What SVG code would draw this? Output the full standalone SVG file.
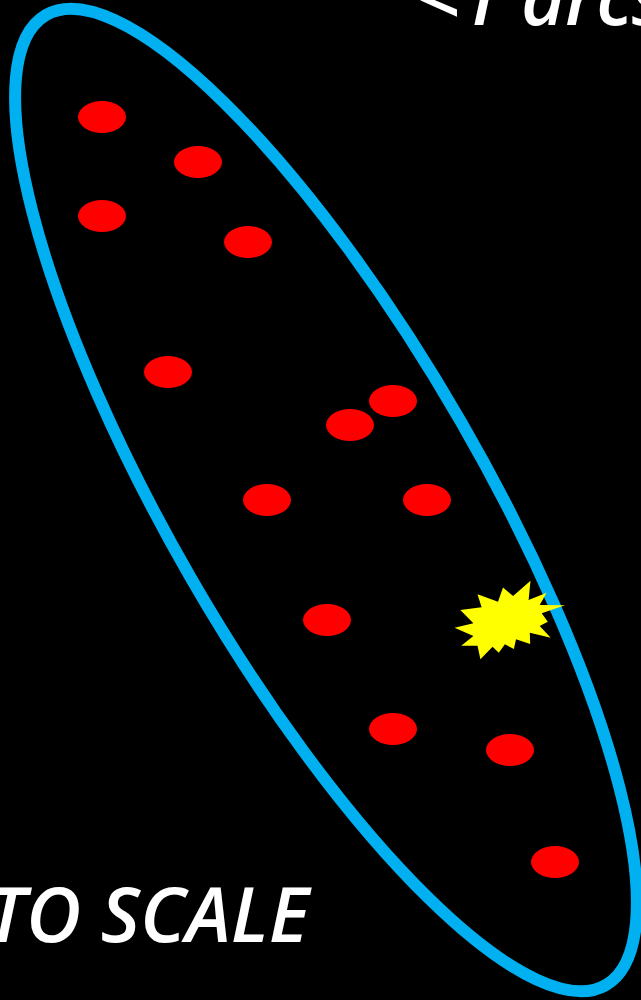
<svg xmlns="http://www.w3.org/2000/svg" width="641" height="1000" viewBox="0 0 641 1000">
<style>
.dot{fill:#FF0000}
.lbl{fill:#FFFFFF;font-family:"Open Sans","Liberation Sans",sans-serif;font-style:italic;font-weight:600;font-size:76px}
</style>
<rect x="0" y="0" width="641" height="1000" fill="#000000"/>
<g id="region">
<ellipse cx="326" cy="500" rx="560" ry="156" transform="rotate(60 326 500)" fill="none" stroke="#00B0F0" stroke-width="12"/>
</g>
<g id="dots">
<ellipse class="dot" cx="102" cy="117" rx="24" ry="16"/>
<ellipse class="dot" cx="198" cy="162" rx="24" ry="16"/>
<ellipse class="dot" cx="102" cy="216" rx="24" ry="16"/>
<ellipse class="dot" cx="248" cy="242" rx="24" ry="16"/>
<ellipse class="dot" cx="168" cy="372" rx="24" ry="16"/>
<ellipse class="dot" cx="393" cy="401" rx="24" ry="16"/>
<ellipse class="dot" cx="350" cy="425" rx="24" ry="16"/>
<ellipse class="dot" cx="267" cy="500" rx="24" ry="16"/>
<ellipse class="dot" cx="427" cy="500" rx="24" ry="16"/>
<ellipse class="dot" cx="327" cy="620" rx="24" ry="16"/>
<ellipse class="dot" cx="393" cy="729" rx="24" ry="16"/>
<ellipse class="dot" cx="510" cy="750" rx="24" ry="16"/>
<ellipse class="dot" cx="555" cy="862" rx="24" ry="16"/>
</g>
<g id="burst">
<polygon fill="#FFFF00" points="530.5,580.7 528.6,600 546.6,592.7 539.7,605 565,605.3 541.7,613.3 547.8,621.7 539.7,626 550.7,637.7 529.8,632.7 530.2,644 516,639.3 513.9,649 504.9,644.3 498.8,652.7 492.6,646.7 480.4,659.3 477.5,645.7 461.2,645.7 473.4,636 454.6,627.7 473.4,623.3 460.3,610 481.6,607.3 477.5,594.3 498,601.7 503,587.5 513.1,596"/>
</g>
<g id="labels">
<text class="lbl" x="416" y="25">&lt;1 arcsec</text>
<text class="lbl" x="309" y="942" text-anchor="end">TO SCALE</text>
</g>
</svg>
